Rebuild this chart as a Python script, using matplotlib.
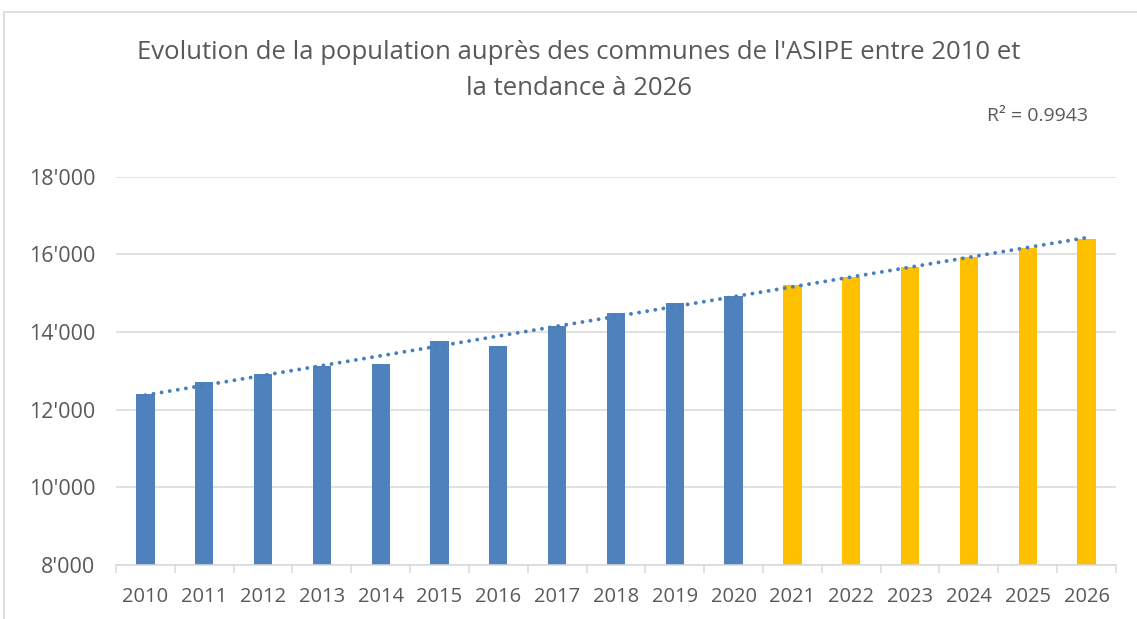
import numpy as np
import matplotlib.pyplot as plt
from matplotlib.patches import Rectangle
from matplotlib.ticker import FuncFormatter

# données
years = ['2010', '2011', '2012', '2013', '2014', '2015', '2016', '2017', '2018',
         '2019', '2020', '2021', '2022', '2023', '2024', '2025', '2026']
population = [12400, 12710, 12920, 13120, 13180, 13765, 13650, 14150, 14495,
              14735, 14925, 15205, 15415, 15670, 15930, 16175, 16400]
n_observed = 11  # 2010-2020 observé, 2021-2026 tendance
r2_label = 'R² = 0.9943'

blue = '#4F81BD'
yellow = '#FFC000'
grey_txt = '#595959'
grey_line = '#D9D9D9'

plt.rcParams['font.family'] = ['Open Sans', 'DejaVu Sans']

fig = plt.figure(figsize=(11.37, 6.19), dpi=100)
ax = fig.add_axes([0.102, 0.0873, 0.8795, 0.6272])

x = np.arange(len(years))
colors = [blue if i < n_observed else yellow for i in range(len(years))]
ax.bar(x, population, width=0.31, color=colors, zorder=2)

# tendance linéaire
coef = np.polyfit(x, population, 1)
ax.plot(x, np.polyval(coef, x), color='#4A7EBB', lw=2.8,
        dashes=(0.01, 2.1), dash_capstyle='round', zorder=3)

ax.set_xlim(-0.5, len(years) - 0.5)
ax.set_ylim(8000, 18000)
ax.set_yticks(np.arange(8000, 18001, 2000))
ax.yaxis.set_major_formatter(FuncFormatter(lambda v, p: f"{int(v):,}".replace(',', "'")))
ax.grid(axis='y', color=grey_line, lw=1.1, zorder=0)

ax.set_xticks(x)
ax.set_xticklabels(years)
ax.set_xticks(np.arange(-0.5, len(years), 1), minor=True)
ax.tick_params(axis='x', which='major', length=0, pad=16, labelsize=14.5, labelcolor=grey_txt)
ax.tick_params(axis='x', which='minor', length=6, width=1.1, color=grey_line)
ax.tick_params(axis='y', length=0, pad=15, labelsize=15.5, labelcolor=grey_txt)

for s in ['top', 'right', 'left']:
    ax.spines[s].set_visible(False)
ax.spines['bottom'].set_color(grey_line)
ax.spines['bottom'].set_linewidth(1.1)

fig.text(0.509, 0.886, "Evolution de la population auprès des communes de l'ASIPE entre 2010 et\nla tendance à 2026",
         ha='center', va='center', fontsize=18.5, color=grey_txt, linespacing=1.55)
fig.text(0.957, 0.813, r2_label, ha='right', va='center', fontsize=14, color=grey_txt)

# cadre du graphique
fig.add_artist(Rectangle((0.0035, -0.1), 1.1, 1.08, transform=fig.transFigure,
                         fill=False, edgecolor=grey_line, lw=1.2))

fig.savefig('out.png', dpi=100)
